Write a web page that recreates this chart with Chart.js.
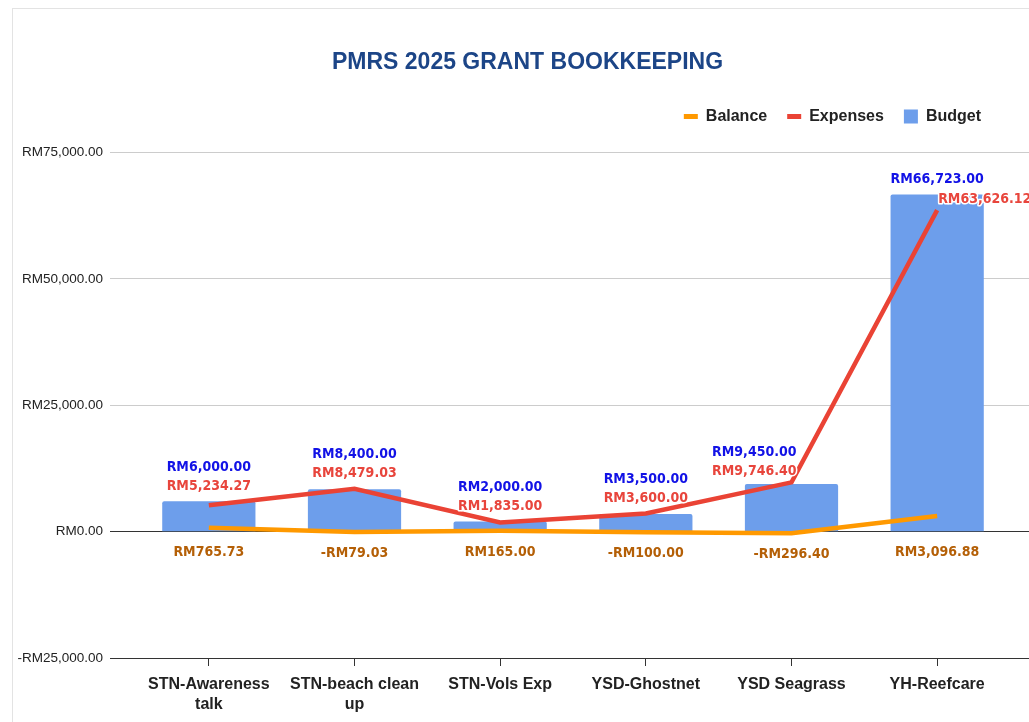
<!DOCTYPE html>
<html>
<head>
<meta charset="utf-8">
<script src="https://cdn.jsdelivr.net/npm/chart.js@4.4.1/dist/chart.umd.min.js"></script>
<style>
  html, body { margin: 0; padding: 0; background: #fff; overflow: hidden; }
  #card { position: absolute; left: 12px; top: 8px; width: 1060px; height: 760px; border: 1px solid #e3e3e3; background: #fff; }
  canvas { display: block; }
</style>
</head>
<body>
<div id="card"><canvas id="chart" width="1029" height="719"></canvas></div>
<script>
const categories = [['STN-Awareness', 'talk'], ['STN-beach clean', 'up'], 'STN-Vols Exp', 'YSD-Ghostnet', 'YSD Seagrass', 'YH-Reefcare'];
const budget = [6000, 8400, 2000, 3500, 9450, 66723];
const expenses = [5234.27, 8479.03, 1835, 3600, 9746.40, 63626.12];
const balance = [765.73, -79.03, 165, -100, -296.40, 3096.88];
const yTicks = [-25000, 0, 25000, 50000, 75000];

// where the expense label goes relative to its point
const labelAlign = ['center', 'center', 'center', 'center', 'right', 'left'];

function fmt(v) {
  const s = Math.abs(v).toLocaleString('en-US', { minimumFractionDigits: 2, maximumFractionDigits: 2 });
  return (v < 0 ? '-' : '') + 'RM' + s;
}

const gridColor = c => (c.tick && (c.tick.value === 0 || c.tick.value === -25000)) ? '#333333' : '#cccccc';

const valueLabels = {
  id: 'valueLabels',
  afterDatasetsDraw(chart) {
    const ctx = chart.ctx;
    const zero = chart.scales.y.getPixelForValue(0);
    const bal = chart.getDatasetMeta(0).data;
    const exp = chart.getDatasetMeta(1).data;
    const bars = chart.getDatasetMeta(2).data;
    ctx.save();
    ctx.font = 'bold 14px "DejaVu Sans Condensed", "DejaVu Sans", sans-serif';
    ctx.textBaseline = 'middle';
    ctx.lineJoin = 'round';
    ctx.lineWidth = 3;
    ctx.strokeStyle = '#ffffff';
    const put = (text, x, y, align, color) => {
      ctx.textAlign = align;
      ctx.strokeText(text, x, y);
      ctx.fillStyle = color;
      ctx.fillText(text, x, y);
    };
    budget.forEach((v, i) => {
      const p = exp[i], b = bars[i];
      const align = labelAlign[i];
      let ex, ey, bx, by, balign;
      if (align === 'left') {
        ex = p.x + 1; ey = p.y - 11;
        bx = b.x; by = b.y - 15; balign = 'center';
      } else {
        ex = align === 'right' ? p.x + 5 : p.x;
        ey = Math.min(p.y, b.y) - (align === 'right' ? 11 : 15);
        bx = ex; by = ey - 19; balign = align;
      }
      put(fmt(v), bx, by, balign, '#1212e6');
      put(fmt(expenses[i]), ex, ey, align, '#e8453c');
      put(fmt(balance[i]), bal[i].x, Math.max(bal[i].y, zero) + 21, 'center', '#b45f06');
    });
    ctx.restore();
  }
};

const legendGap = {
  id: 'legendGap',
  beforeInit(chart) {
    const fit = chart.legend.fit;
    chart.legend.fit = function () {
      fit.call(this);
      this.height += 18;
    };
  },
  beforeDraw(chart) {
    chart.legend.right = chart.chartArea.right - 9;
  }
};

Chart.defaults.font.family = '"Liberation Sans", Arial, sans-serif';
Chart.defaults.color = '#222';

new Chart(document.getElementById('chart'), {
  type: 'bar',
  data: {
    labels: categories,
    datasets: [
      {
        type: 'line', label: 'Balance', data: balance, order: 1,
        borderColor: '#ff9900', backgroundColor: '#ff9900', borderWidth: 4.5,
        pointRadius: 0, tension: 0
      },
      {
        type: 'line', label: 'Expenses', data: expenses, order: 2,
        borderColor: '#ea4335', backgroundColor: '#ea4335', borderWidth: 4.5,
        pointRadius: 0, tension: 0
      },
      {
        type: 'bar', label: 'Budget', data: budget, order: 3,
        backgroundColor: '#6d9eeb', borderRadius: 2,
        barPercentage: 0.64, categoryPercentage: 1
      }
    ]
  },
  options: {
    responsive: false,
    animation: false,
    layout: { padding: 0 },
    plugins: {
      title: {
        display: true,
        text: 'PMRS 2025 GRANT BOOKKEEPING',
        color: '#1c4587',
        font: { size: 23, weight: 'bold' },
        padding: { top: 40, bottom: 12 }
      },
      legend: {
        position: 'top',
        align: 'end',
        fullSize: false,
        labels: {
          font: { size: 16, weight: 'bold' },
          color: '#222',
          usePointStyle: true,
          pointStyleWidth: 14,
          boxHeight: 14,
          padding: 20,
          generateLabels: chart => Chart.defaults.plugins.legend.labels.generateLabels(chart).map(item => {
            const ds = chart.data.datasets[item.datasetIndex];
            const isLine = ds.type === 'line';
            item.pointStyle = isLine ? 'line' : 'rect';
            item.lineWidth = isLine ? 5 : 0;
            item.strokeStyle = isLine ? ds.borderColor : ds.backgroundColor;
            item.fillStyle = isLine ? ds.borderColor : ds.backgroundColor;
            return item;
          })
        }
      },
      tooltip: { enabled: false }
    },
    scales: {
      x: {
        offset: true,
        grid: { drawOnChartArea: false, offset: false, tickLength: 8, color: '#333333' },
        border: { display: true, color: '#333333' },
        ticks: {
          font: { size: 16, weight: 'bold', lineHeight: 1.25 },
          color: '#222',
          padding: 9,
          maxRotation: 0,
          autoSkip: false
        },
        afterFit: s => { s.height = 70; }
      },
      y: {
        min: -25000,
        max: 75000,
        afterBuildTicks: s => { s.ticks = yTicks.map(v => ({ value: v })); },
        grid: { color: gridColor, tickLength: 26 },
        border: { display: false },
        ticks: {
          callback: v => fmt(v),
          font: { size: 13.5 },
          color: '#222',
          padding: 7
        },
        afterFit: s => { s.width = 123; }
      },
      y2: {
        position: 'right',
        min: -25000,
        max: 75000,
        afterBuildTicks: s => { s.ticks = yTicks.map(v => ({ value: v })); },
        grid: { drawOnChartArea: false, color: gridColor, tickLength: 32 },
        border: { display: false },
        ticks: { callback: () => '' },
        afterFit: s => { s.width = 32; }
      }
    }
  },
  plugins: [valueLabels, legendGap]
});
</script>
</body>
</html>
